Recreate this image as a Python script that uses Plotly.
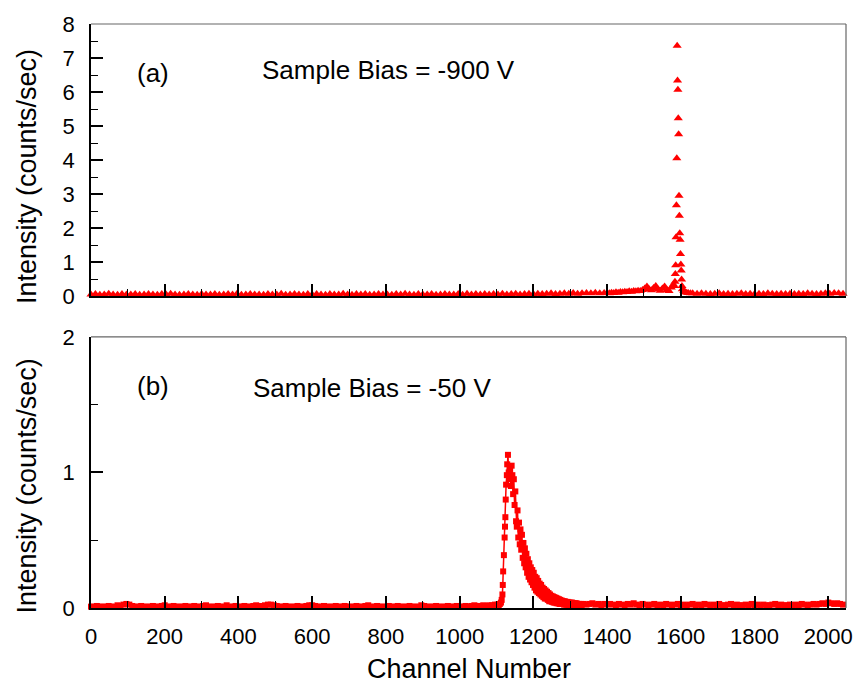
import plotly.graph_objects as go

# ---------------- Panel (a): Sample Bias = -900 V ----------------
a_base_channels = list(range(0, 1393, 12))
a_base_counts = [
    0.05, 0.06, 0.04, 0.05, 0.07, 0.05, 0.04, 0.06, 0.05, 0.05, 0.06, 0.04, 0.05,
    0.06, 0.05, 0.04, 0.06, 0.05, 0.07, 0.05, 0.04, 0.05, 0.06, 0.05, 0.04, 0.06,
    0.05, 0.05, 0.06, 0.04, 0.05, 0.06, 0.05, 0.07, 0.04, 0.05, 0.06, 0.05, 0.05,
    0.04, 0.06, 0.05, 0.05, 0.07, 0.04, 0.05, 0.06, 0.05, 0.04, 0.06, 0.05, 0.06,
    0.05, 0.04, 0.06, 0.05, 0.05, 0.07, 0.05, 0.04, 0.06, 0.05, 0.06, 0.04, 0.05,
    0.06, 0.05, 0.05, 0.04, 0.06, 0.05, 0.07, 0.05, 0.04, 0.06, 0.05, 0.05, 0.06,
    0.04, 0.05, 0.06, 0.05, 0.05, 0.06, 0.04, 0.07, 0.05, 0.06, 0.05, 0.06, 0.05,
    0.06, 0.05, 0.07, 0.05, 0.06, 0.07, 0.05, 0.06, 0.07, 0.06, 0.07, 0.06, 0.07,
    0.08, 0.06, 0.07, 0.08, 0.07, 0.09, 0.07, 0.08, 0.09, 0.08, 0.10, 0.08, 0.09,
]
a_pre_channels = list(range(1400, 1581, 6))
a_pre_counts = [
    0.09, 0.08, 0.10, 0.09, 0.11, 0.10, 0.12, 0.11, 0.13, 0.12, 0.14,
    0.13, 0.15, 0.14, 0.16, 0.15, 0.18, 0.22, 0.28, 0.20, 0.17, 0.24,
    0.30, 0.19, 0.16, 0.22, 0.28, 0.18, 0.15, 0.25, 0.34,
]
a_peak_channels = [1582, 1584, 1585, 1586, 1587, 1588, 1589, 1590, 1591, 1592,
                   1593, 1594, 1595, 1596, 1597, 1598, 1599, 1600, 1601, 1602,
                   1603, 1604]
a_peak_counts = [0.30, 0.42, 0.65, 0.91, 1.73, 2.67, 4.05, 7.36, 6.34, 6.07,
                 5.23, 4.76, 2.95, 2.36, 1.85, 1.66, 1.24, 0.93, 0.75, 0.49,
                 0.30, 0.20]
a_post_channels = [1608, 1612, 1616, 1620, 1626] + list(range(1632, 2041, 12))
a_post_counts = [
    0.15, 0.12, 0.10, 0.09, 0.08,
    0.08, 0.07, 0.08, 0.07, 0.06, 0.07, 0.08, 0.06, 0.07, 0.06, 0.07, 0.08,
    0.06, 0.07, 0.06, 0.07, 0.06, 0.08, 0.07, 0.06, 0.07, 0.06, 0.07, 0.06,
    0.07, 0.06, 0.08, 0.07, 0.06, 0.07, 0.08, 0.07, 0.09, 0.08, 0.07,
]

# ---------------- Panel (b): Sample Bias = -50 V ----------------
b_base_channels = list(range(0, 1097, 8))
b_base_counts = [
    0.01, 0.01, 0.015, 0.01, 0.01, 0.01, 0.015, 0.01, 0.01, 0.02, 0.015, 0.025,
    0.03, 0.025, 0.015, 0.01, 0.01, 0.015, 0.01, 0.01, 0.01, 0.015, 0.01, 0.01,
    0.015, 0.02, 0.01, 0.01, 0.015, 0.01, 0.01, 0.01, 0.015, 0.01, 0.01, 0.015,
    0.01, 0.01, 0.015, 0.02, 0.01, 0.01, 0.01, 0.015, 0.01, 0.01, 0.02, 0.01,
    0.01, 0.015, 0.01, 0.01, 0.015, 0.01, 0.01, 0.015, 0.02, 0.015, 0.01, 0.02,
    0.025, 0.025, 0.02, 0.015, 0.01, 0.01, 0.015, 0.01, 0.01, 0.01, 0.015, 0.01,
    0.01, 0.015, 0.02, 0.02, 0.015, 0.01, 0.01, 0.015, 0.01, 0.01, 0.01, 0.015,
    0.01, 0.01, 0.015, 0.01, 0.01, 0.01, 0.015, 0.01, 0.01, 0.015, 0.02, 0.01,
    0.01, 0.015, 0.01, 0.01, 0.01, 0.015, 0.01, 0.01, 0.015, 0.01, 0.01, 0.01,
    0.015, 0.01, 0.01, 0.01, 0.02, 0.015, 0.01, 0.01, 0.01, 0.015, 0.01, 0.01,
    0.01, 0.015, 0.01, 0.01, 0.015, 0.01, 0.01, 0.015, 0.01, 0.015, 0.02, 0.015,
    0.015, 0.02, 0.015, 0.02, 0.02, 0.025,
]
b_rise_channels = [1100, 1103, 1106, 1109, 1112, 1114, 1116, 1117, 1118, 1120,
                   1122, 1123, 1124, 1125, 1126, 1128, 1129, 1131, 1133, 1135,
                   1137, 1139, 1141]
b_rise_counts = [0.02, 0.025, 0.02, 0.03, 0.04, 0.06, 0.10, 0.17, 0.27, 0.39,
                 0.52, 0.60, 0.67, 0.80, 0.91, 0.98, 1.06, 1.13, 1.00, 0.95,
                 1.02, 0.90, 1.05]
b_decay_channels = list(range(1143, 1332, 2))
b_decay_counts = [
    0.98, 0.84, 0.95, 0.76, 0.86, 0.64, 0.60, 0.72, 0.52, 0.63,
    0.47, 0.58, 0.43, 0.54, 0.37, 0.48, 0.33, 0.44, 0.30, 0.40,
    0.26, 0.36, 0.23, 0.33, 0.21, 0.30, 0.19, 0.28, 0.17, 0.26,
    0.15, 0.23, 0.13, 0.22, 0.12, 0.20, 0.11, 0.18, 0.10, 0.17,
    0.09, 0.15, 0.08, 0.14, 0.07, 0.13, 0.07, 0.12, 0.06, 0.11,
    0.05, 0.10, 0.05, 0.09, 0.045, 0.085, 0.04, 0.08, 0.04, 0.075,
    0.035, 0.07, 0.035, 0.065, 0.03, 0.06, 0.03, 0.055, 0.03, 0.05,
    0.025, 0.05, 0.025, 0.045, 0.025, 0.045, 0.02, 0.04, 0.02, 0.04,
    0.02, 0.04, 0.02, 0.035, 0.02, 0.035, 0.02, 0.035, 0.02, 0.03,
    0.02, 0.03, 0.02, 0.03, 0.02,
]
b_tail_channels = list(range(1336, 2045, 8))
b_tail_counts = [
    0.03, 0.025, 0.03, 0.035, 0.025, 0.03, 0.02, 0.03, 0.025, 0.03, 0.025, 0.02,
    0.03, 0.025, 0.02, 0.03, 0.025, 0.035, 0.025, 0.02, 0.03, 0.025, 0.02, 0.025,
    0.03, 0.02, 0.025, 0.02, 0.03, 0.025, 0.02, 0.025, 0.03, 0.02, 0.025, 0.02,
    0.025, 0.03, 0.02, 0.025, 0.02, 0.03, 0.025, 0.02, 0.025, 0.02, 0.03, 0.02,
    0.02, 0.025, 0.03, 0.02, 0.025, 0.02, 0.02, 0.025, 0.02, 0.03, 0.02, 0.025,
    0.02, 0.025, 0.02, 0.02, 0.025, 0.03, 0.02, 0.025, 0.02, 0.02, 0.025, 0.02,
    0.025, 0.02, 0.03, 0.025, 0.02, 0.025, 0.03, 0.025, 0.03, 0.035, 0.03, 0.04,
    0.035, 0.03, 0.035, 0.03, 0.025,
]

x_tick_vals = [0, 200, 400, 600, 800, 1000, 1200, 1400, 1600, 1800, 2000]
x_tick_text = ["0", "200", "400", "600", "800", "1000", "1200", "1400", "1600", "1800", "2000"]
a_y_ticks = [0, 1, 2, 3, 4, 5, 6, 7, 8]
b_y_ticks = [0, 1, 2]

a_x = a_base_channels + a_pre_channels + a_peak_channels + a_post_channels
a_y = a_base_counts + a_pre_counts + a_peak_counts + a_post_counts
b_x = b_base_channels + b_rise_channels + b_decay_channels + b_tail_channels
b_y = b_base_counts + b_rise_counts + b_decay_counts + b_tail_counts

RED = "#ff0000"
FONT = "Liberation Sans, Arial, Helvetica, sans-serif"

fig = go.Figure()
fig.add_trace(go.Scatter(
    x=a_x, y=a_y, mode="markers", xaxis="x", yaxis="y",
    marker=dict(symbol="triangle-up", size=8, color=RED, line=dict(width=0)),
    cliponaxis=False, showlegend=False,
))
fig.add_trace(go.Scatter(
    x=b_x, y=b_y, mode="lines+markers", xaxis="x2", yaxis="y2",
    line=dict(color=RED, width=1.5),
    marker=dict(symbol="square", size=6, color=RED, line=dict(width=0)),
    cliponaxis=False, showlegend=False,
))

axis_common = dict(
    showline=True, linecolor="black", linewidth=1.5,
    ticks="inside", tickcolor="black", tickwidth=1.5,
    showgrid=False, zeroline=False, mirror=False,
    tickfont=dict(family=FONT, size=22, color="black"),
)
minor_x = dict(dtick=100, tick0=0, ticks="inside", ticklen=7, tickcolor="black", tickwidth=1.2)

fig.update_layout(
    width=865, height=690,
    margin=dict(l=91, r=12, t=22, b=82),
    paper_bgcolor="white", plot_bgcolor="white",
    font=dict(family=FONT, color="black"),
    xaxis=dict(domain=[0, 1], anchor="y", range=[0, 2048],
               tickvals=x_tick_vals, ticktext=x_tick_text, showticklabels=False,
               ticklen=12, minor=minor_x, **axis_common),
    yaxis=dict(domain=[0.5341, 1], anchor="x", range=[0, 8],
               tickvals=a_y_ticks, ticklen=12, ticklabelstandoff=10,
               minor=dict(dtick=0.5, tick0=0, ticks="inside", ticklen=7,
                          tickcolor="black", tickwidth=1.2),
               **axis_common),
    xaxis2=dict(domain=[0, 1], anchor="y2", range=[0, 2048],
                tickvals=x_tick_vals, ticktext=x_tick_text, ticklabelstandoff=8,
                ticklen=12, minor=minor_x, **axis_common),
    yaxis2=dict(domain=[0, 0.4642], anchor="x2", range=[0, 2],
                tickvals=b_y_ticks, ticklen=12, ticklabelstandoff=10,
                minor=dict(dtick=0.5, tick0=0, ticks="inside", ticklen=7,
                           tickcolor="black", tickwidth=1.2),
                **axis_common),
)

# gray top/right frame lines
for xr, yr in (("x domain", "y domain"), ("x2 domain", "y2 domain")):
    fig.add_shape(type="line", xref=xr, yref=yr, x0=0, x1=1, y0=1, y1=1,
                  line=dict(color="#666666", width=1.2))
    fig.add_shape(type="line", xref=xr, yref=yr, x0=1, x1=1, y0=0, y1=1,
                  line=dict(color="#666666", width=1.2))

ann_font = dict(family=FONT, size=26, color="black")
title_font = dict(family=FONT, size=27, color="black")
annotations = [
    dict(text="(a)", xref="paper", yref="y domain", x=0.0577, y=0.82,
         xanchor="left", yanchor="middle", showarrow=False, font=ann_font),
    dict(text="Sample Bias = -900 V", xref="paper", yref="y domain", x=0.2244, y=0.83,
         xanchor="left", yanchor="middle", showarrow=False, font=ann_font),
    dict(text="(b)", xref="paper", yref="y2 domain", x=0.0577, y=0.82,
         xanchor="left", yanchor="middle", showarrow=False, font=ann_font),
    dict(text="Sample Bias = -50 V", xref="paper", yref="y2 domain", x=0.212, y=0.81,
         xanchor="left", yanchor="middle", showarrow=False, font=ann_font),
    dict(text="Intensity (counts/sec)", xref="paper", yref="y domain", x=0, y=0.5,
         xshift=-64, yshift=-17, textangle=-90, xanchor="center", yanchor="middle",
         showarrow=False, font=title_font),
    dict(text="Intensity (counts/sec)", xref="paper", yref="y2 domain", x=0, y=0.5,
         xshift=-64, yshift=-14, textangle=-90, xanchor="center", yanchor="middle",
         showarrow=False, font=title_font),
    dict(text="Channel Number", xref="paper", yref="paper", x=0.5, y=0,
         yshift=-61, xanchor="center", yanchor="middle",
         showarrow=False, font=title_font),
]
fig.update_layout(annotations=annotations)

fig.write_html("out.html")
